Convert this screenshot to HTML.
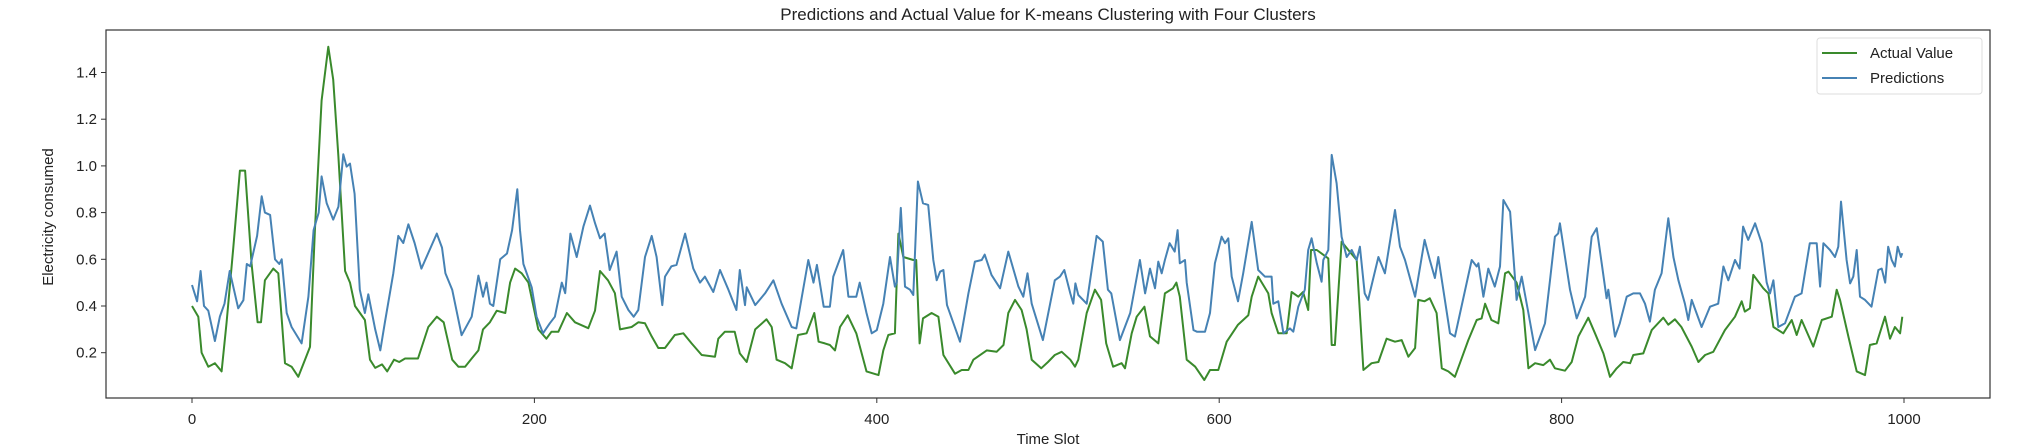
<!DOCTYPE html>
<html><head><meta charset="utf-8"><style>
body{margin:0;background:#fff;}
svg{display:block;font-family:"Liberation Sans","DejaVu Sans",sans-serif;}
</style></head><body>
<svg id="chart" width="2036" height="448" xmlns="http://www.w3.org/2000/svg">
<rect x="0" y="0" width="2036" height="448" fill="#fff"/>
<text x="1048" y="20" text-anchor="middle" font-size="17" fill="#222">Predictions and Actual Value for K-means Clustering with Four Clusters</text>
<text x="1048" y="444" text-anchor="middle" font-size="15" fill="#222">Time Slot</text>
<text transform="translate(53,217) rotate(-90)" text-anchor="middle" font-size="15" fill="#222">Electricity consumed</text>
<g id="axes"></g>
<g id="series"></g>
<rect x="106" y="30" width="1884" height="368" fill="none" stroke="#333" stroke-width="1.2"/>
<g>
<rect x="1817" y="38" width="165" height="56" rx="3" fill="#fff" fill-opacity="0.85" stroke="#ddd"/>
<line x1="1822" y1="53" x2="1857" y2="53" stroke="#3a8a2c" stroke-width="2"/>
<text x="1870" y="58" font-size="15" fill="#222">Actual Value</text>
<line x1="1822" y1="78" x2="1857" y2="78" stroke="#4682b4" stroke-width="2"/>
<text x="1870" y="83" font-size="15" fill="#222">Predictions</text>
</g>
</svg>
<script>
const xTicks = [0,200,400,600,800,1000];
const yTicks = [0.2,0.4,0.6,0.8,1.0,1.2,1.4];
const actualT = [0,3.7,5.6,9.5,13.4,17.3,20.2,24.1,28,31,34.8,38.3,40.3,42.6,47.5,50.4,54.3,58.2,62.1,66,68.9,71.8,75.7,79.6,82.5,85.5,89.4,92.3,95.2,101,104,107,111,114,118,121,124.5,132,138,143,147,152,155.6,159.5,163.4,167.3,170,174,178,183,185.8,188.7,192.6,196.5,
202.3,207,210,214,219,223.7,231.5,235.4,238.3,243,247,250,256.8,260.7,264.6,268.5,272.4,276.3,282,287,291.8,297.7,305.5,307.4,311.3,317,320,324,329,335.6,338.6,341.5,346.4,350.3,354,359,363.5,366,369.7,372.6,375.6,378.5,383,388,394,
401,403.8,406.7,410.6,412.6,415.5,421.3,423,425,427,432,436,438.9,445.7,449.6,453.5,456.4,464.2,470,474,476.8,480.7,484.6,487.5,490.5,496,500,504,508,513,515.8,517.7,522.6,527.4,531,534,538,543,545,548.9,551.8,556.3,559.6,564.4,568.3,573,575,577,581,586,591.3,
594.6,599.5,604.4,611,617,619,622.8,628.7,630.6,634.5,639.4,642.3,646.2,649,652,653.6,657,663.7,665.7,667.6,671.5,675.4,680.3,684.2,689,693,697.8,702.7,706.6,710.5,714.4,716.3,720,723,727,730,733.8,737.7,740.6,745.5,750.4,753.3,755.3,759,763,767,769,773.7,777.6,780.6,784.5,789.3,
793.2,796.1,802,805.9,809.8,815.6,819.5,824.4,828.3,832.2,836,840,841.9,847.7,852.6,859.4,862.3,866.2,870,876,879.9,883.8,888.6,895.4,901.3,905.2,907,910,912,917.8,920.8,923.7,929.5,934.4,937.3,940.2,947,952,957.8,960.7,962.6,967.5,972.4,977.2,980.1,984,988.9,991.8,994.7,997.7,999];
const actualV = [0.40,0.354,0.20,0.14,0.155,0.12,0.33,0.65,0.98,0.98,0.58,0.33,0.33,0.51,0.56,0.54,0.155,0.14,0.097,0.17,0.225,0.725,1.28,1.51,1.37,1.04,0.55,0.50,0.40,0.34,0.17,0.135,0.15,0.12,0.17,0.16,0.175,0.175,0.31,0.354,0.33,0.17,0.14,0.14,0.175,0.21,0.30,0.33,0.38,0.37,0.50,0.56,0.54,0.50,
0.30,0.26,0.29,0.29,0.37,0.33,0.305,0.38,0.55,0.51,0.455,0.30,0.31,0.33,0.326,0.27,0.22,0.22,0.276,0.283,0.24,0.19,0.183,0.26,0.29,0.29,0.197,0.16,0.30,0.343,0.31,0.17,0.155,0.133,0.276,0.283,0.37,0.247,0.24,0.233,0.21,0.31,0.36,0.283,0.12,
0.104,0.21,0.276,0.283,0.71,0.61,0.597,0.597,0.24,0.347,0.37,0.354,0.19,0.11,0.126,0.126,0.17,0.21,0.204,0.233,0.37,0.426,0.383,0.30,0.17,0.133,0.16,0.19,0.204,0.17,0.14,0.17,0.37,0.47,0.426,0.24,0.14,0.155,0.133,0.283,0.354,0.397,0.27,0.24,0.454,0.476,0.50,0.44,0.17,0.14,0.083,
0.126,0.126,0.247,0.32,0.36,0.44,0.526,0.454,0.37,0.283,0.283,0.46,0.44,0.46,0.383,0.64,0.64,0.604,0.233,0.233,0.676,0.64,0.597,0.126,0.155,0.16,0.26,0.247,0.254,0.183,0.22,0.426,0.42,0.433,0.37,0.133,0.12,0.097,0.155,0.254,0.34,0.347,0.41,0.34,0.326,0.54,0.547,0.50,0.383,0.133,0.155,0.147,
0.17,0.133,0.123,0.16,0.27,0.35,0.283,0.197,0.097,0.133,0.16,0.155,0.19,0.197,0.297,0.35,0.32,0.343,0.31,0.226,0.16,0.19,0.204,0.297,0.354,0.42,0.376,0.39,0.533,0.476,0.454,0.31,0.283,0.34,0.276,0.34,0.226,0.34,0.354,0.47,0.426,0.269,0.12,0.104,0.233,0.24,0.354,0.26,0.31,0.283,0.354];
const predT = [0,3,5,7,9.5,13.4,16.3,19,22,27,30,32,34,38,40.7,42.6,45.6,48.5,51,52.4,55.3,58.2,64,68,71,74,75.7,78.7,82.5,85.5,88.4,90.3,92.3,95,98,101,103,107,110,112.7,117.6,120.5,123.4,126.4,130,134,143,146,148,152,157.5,163.4,167.3,170,172,174,176,180,184,187,190,191.6,193.6,
198.4,201.3,205,209,212,216,218,221,224.7,228.6,232.5,235.4,238.3,241,244,248,251,254.9,258,260.7,264.6,268.5,271.4,274.7,276.3,280,283,288,292.8,296.7,299.6,304.5,308.4,313.3,318,320,323,324,329,334.7,339.6,344.4,350.3,353,360,363,365,369,372.6,374.6,380.4,383.4,388,390,394,
397,400,403.8,407.7,410.6,411.6,414,416.5,419.4,421.3,424,427,430,433,435,437,438.9,441,448.6,453.5,457.3,461.3,463,467,472,476.8,482.7,485.6,488,490.5,497,504,507,509.5,513,514.8,516,517.7,522.6,528.4,532,535,537,542,548,553.7,556.7,559.6,562.5,564.4,566.4,568.3,571,574,575.7,577,580,581,585,587,591.7,
594.6,597.5,601.4,603.4,605.3,607.3,611,614,619,622.8,626.7,630.6,631.6,634.5,637.5,641.3,643.3,646.2,650,652,654,657,659.8,660.8,663.7,665.7,668.6,671.5,674.5,677.4,680.3,682.2,685,687,693,696.8,702.7,705.6,708.5,714.4,720,723,726,728,734.8,737.7,747.5,750.4,751.4,754.3,757.2,761,764,766,769.9,773.7,776.7,780.6,784.5,
790.3,793.2,796.1,798,799,802,804.9,808.8,813.7,817.6,820.5,823.4,826.3,827.3,831.2,834,838,841.9,845.8,848.7,851.6,854.5,858.4,862.3,865.3,868.2,872,874,876,881.8,886.7,891.5,894.5,897.4,901.3,904,906,909,913,916.9,919.8,921.7,923.7,926.6,930.5,936.3,940.2,945,949,951,952.9,956.8,959.7,961.6,963.2,966.5,968.5,970.4,972.4,974.3,977.2,981,985,987,989,990.8,992.8,994.7,996.3,998.2,999];
const predV = [0.49,0.42,0.55,0.40,0.38,0.25,0.355,0.41,0.55,0.39,0.425,0.58,0.57,0.70,0.87,0.80,0.79,0.60,0.58,0.60,0.37,0.31,0.24,0.44,0.725,0.80,0.955,0.84,0.77,0.825,1.05,0.997,1.01,0.88,0.47,0.37,0.45,0.30,0.21,0.33,0.54,0.70,0.67,0.75,0.67,0.56,0.71,0.65,0.54,0.47,0.275,0.354,0.53,0.44,0.50,0.41,0.40,0.60,0.625,0.725,0.90,0.725,0.58,
0.48,0.354,0.283,0.326,0.354,0.50,0.455,0.71,0.61,0.74,0.83,0.755,0.69,0.71,0.554,0.633,0.44,0.383,0.354,0.383,0.61,0.70,0.61,0.404,0.526,0.57,0.576,0.71,0.56,0.50,0.526,0.46,0.554,0.47,0.383,0.554,0.404,0.48,0.404,0.454,0.51,0.41,0.31,0.304,0.597,0.50,0.576,0.397,0.397,0.526,0.64,0.44,0.44,0.50,0.37,
0.283,0.297,0.41,0.61,0.483,0.50,0.82,0.483,0.47,0.447,0.933,0.84,0.833,0.597,0.51,0.547,0.554,0.404,0.247,0.454,0.59,0.597,0.62,0.533,0.476,0.633,0.483,0.44,0.54,0.41,0.254,0.51,0.526,0.554,0.454,0.41,0.497,0.447,0.41,0.70,0.676,0.47,0.454,0.254,0.37,0.597,0.454,0.56,0.476,0.59,0.54,0.597,0.669,0.633,0.725,0.583,0.597,0.50,0.297,0.29,0.29,
0.37,0.583,0.697,0.669,0.69,0.526,0.42,0.54,0.76,0.554,0.526,0.526,0.41,0.42,0.283,0.304,0.29,0.397,0.47,0.64,0.69,0.583,0.504,0.597,0.64,1.047,0.926,0.697,0.61,0.64,0.597,0.654,0.454,0.426,0.61,0.54,0.811,0.654,0.597,0.44,0.683,0.597,0.52,0.61,0.283,0.269,0.597,0.569,0.583,0.44,0.56,0.483,0.569,0.854,0.804,0.426,0.526,0.37,0.211,
0.326,0.51,0.697,0.711,0.754,0.61,0.47,0.347,0.44,0.697,0.733,0.583,0.433,0.47,0.269,0.326,0.44,0.454,0.454,0.41,0.333,0.47,0.54,0.776,0.61,0.51,0.41,0.34,0.426,0.31,0.397,0.41,0.569,0.51,0.597,0.56,0.74,0.683,0.754,0.669,0.50,0.454,0.51,0.31,0.326,0.44,0.454,0.669,0.669,0.483,0.669,0.64,0.61,0.654,0.847,0.597,0.497,0.526,0.64,0.44,0.426,0.397,0.554,0.56,0.50,0.654,0.597,0.569,0.654,0.61,0.626];

const NS = "http://www.w3.org/2000/svg";
function xScale(t){ return 192 + t * 1.712; }
function yScale(v){ return 352.7 - (v - 0.2) * 233.5; }

const axes = document.getElementById('axes');
xTicks.forEach(function(t){
  const x = xScale(t);
  const ln = document.createElementNS(NS,'line');
  ln.setAttribute('x1',x); ln.setAttribute('x2',x); ln.setAttribute('y1',398); ln.setAttribute('y2',403);
  ln.setAttribute('stroke','#333');
  
  
  axes.appendChild(ln);
  const tx = document.createElementNS(NS,'text');
  tx.setAttribute('x',x); tx.setAttribute('y',424); tx.setAttribute('text-anchor','middle');
  tx.setAttribute('font-size','15'); tx.setAttribute('fill','#222');
  tx.textContent = String(t);
  
  
  axes.appendChild(tx);
});
yTicks.forEach(function(v){
  const y = yScale(v);
  const ln = document.createElementNS(NS,'line');
  ln.setAttribute('x1',101); ln.setAttribute('x2',106); ln.setAttribute('y1',y); ln.setAttribute('y2',y);
  ln.setAttribute('stroke','#333');
  
  
  axes.appendChild(ln);
  const tx = document.createElementNS(NS,'text');
  tx.setAttribute('x',97); tx.setAttribute('y',y+5); tx.setAttribute('text-anchor','end');
  tx.setAttribute('font-size','15'); tx.setAttribute('fill','#222');
  tx.textContent = v.toFixed(1);
  
  
  axes.appendChild(tx);
});

function buildPath(ts, vs){
  const pts = ts.map(function(t,i){ return [t, vs[i]]; }).sort(function(a,b){ return a[0]-b[0]; });
  return pts.map(function(p,i){ return (i?'L':'M') + xScale(p[0]).toFixed(1) + ' ' + yScale(p[1]).toFixed(1); }).join(' ');
}
const series = document.getElementById('series');
const pa = document.createElementNS(NS,'path');
pa.setAttribute('d', buildPath(actualT, actualV));
pa.setAttribute('fill','none'); pa.setAttribute('stroke','#3a8a2c'); pa.setAttribute('stroke-width','2'); pa.setAttribute('stroke-linejoin','round');


series.appendChild(pa);
const pp = document.createElementNS(NS,'path');
pp.setAttribute('d', buildPath(predT, predV));
pp.setAttribute('fill','none'); pp.setAttribute('stroke','#4682b4'); pp.setAttribute('stroke-width','2'); pp.setAttribute('stroke-linejoin','round');


series.appendChild(pp);
</script>
</body></html>
